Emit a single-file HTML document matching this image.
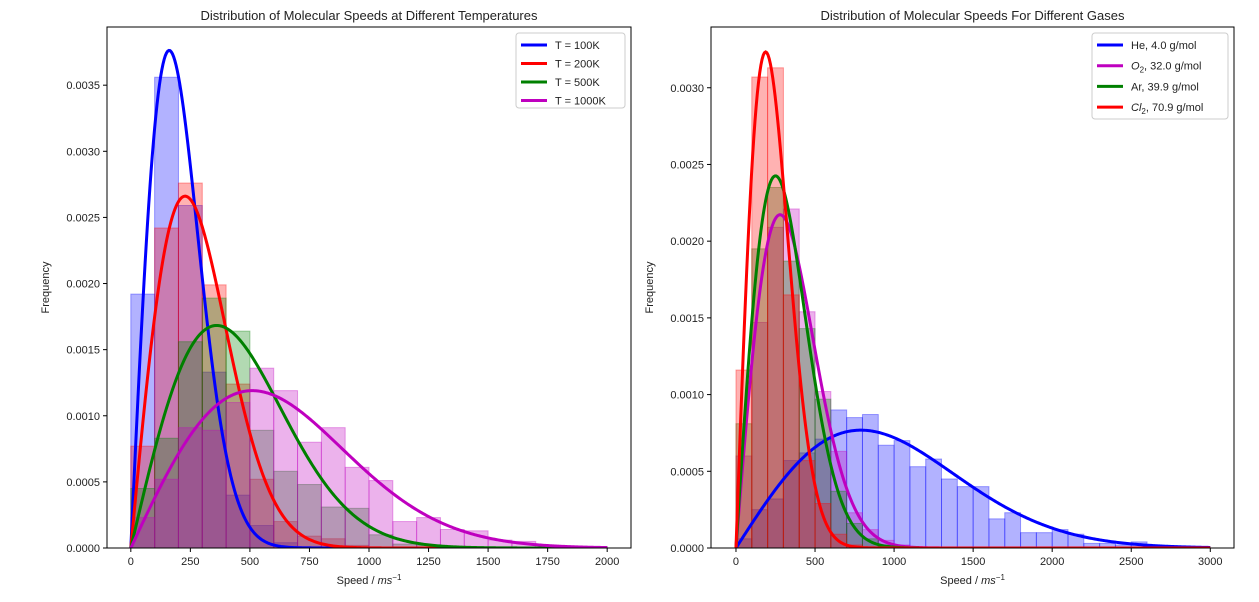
<!DOCTYPE html>
<html><head><meta charset="utf-8"><style>
body{margin:0;background:#fff;}
svg text{font-family:"Liberation Sans","DejaVu Sans",sans-serif;fill:#222;}
</style></head><body>
<svg id="fig" width="1259" height="597" xmlns="http://www.w3.org/2000/svg"></svg>
<script>
// ---- data ----
const leftTemps = [100, 200, 500, 1000];
const leftMass = 0.032; // kg/mol
const leftLabels = ["T = 100K", "T = 200K", "T = 500K", "T = 1000K"];
const leftColors = ["#0000ff", "#ff0000", "#008000", "#bf00bf"];
const leftHist100 = [0.00192,0.00356,0.00259,0.00133,0.00040,0.00017,0.00004,0.00001];
const leftHist200 = [0.00077,0.00242,0.00276,0.00199,0.00124,0.00052,0.00020,0.00009,0.00007,0.00002];
const leftHist500 = [0.00045,0.00083,0.00156,0.00189,0.00164,0.00089,0.00058,0.00048,0.00031,0.00030,0.00010,0.00003,0.00002];
const leftHist1000 = [0.00023,0.00052,0.00091,0.00089,0.00110,0.00136,0.00119,0.00080,0.00091,0.00061,0.00051,0.00020,0.00023,0.00014,0.00013,0.00006,0.00005,0.00001,0.00001,0.00001];
const leftXTicks = [0,250,500,750,1000,1250,1500,1750,2000];
const leftYTicks = [0,0.0005,0.001,0.0015,0.002,0.0025,0.003,0.0035];

const rightTemp = 300;
const rightMasses = [4.0, 32.0, 39.9, 70.9];
const rightLabels = ["He, 4.0 g/mol", "O|2, 32.0 g/mol", "Ar, 39.9 g/mol", "Cl|2, 70.9 g/mol"];
const rightColors = ["#0000ff", "#bf00bf", "#008000", "#ff0000"];
const rightHistHe = [0.00006,0.00025,0.00032,0.00057,0.00062,0.00071,0.00090,0.00085,0.00087,0.00067,0.00070,0.00053,0.00058,0.00045,0.00040,0.00040,0.00019,0.00023,0.00010,0.00010,0.00012,0.00009,0.00003,0.00003,0.00002,0.00004];
const rightHistO2 = [0.00060,0.00147,0.00209,0.00221,0.00154,0.00102,0.00063,0.00023,0.00012,0.00005,0.00002];
const rightHistAr = [0.00081,0.00195,0.00235,0.00187,0.00143,0.00097,0.00037,0.00016,0.00006,0.00002];
const rightHistCl2 = [0.00116,0.00307,0.00313,0.00165,0.00057,0.00029,0.00009,0.00002];
const rightXTicks = [0,500,1000,1500,2000,2500,3000];
const rightYTicks = [0,0.0005,0.001,0.0015,0.002,0.0025,0.003];
const binWidth = 100;

const NS = "http://www.w3.org/2000/svg";
const svg = document.getElementById('fig');
function mk(tag, attrs, parent){const e=document.createElementNS(NS,tag);for(const k in attrs)e.setAttribute(k,attrs[k]);(parent||svg).appendChild(e);return e;}
function pdf2d(v,T,M){const a2=8.314*T/(M/1000);return v/a2*Math.exp(-v*v/(2*a2));}

function panel(cfg){
  const g = mk('g',{});
  
  
  const X = v => cfg.x0 + (v - cfg.xmin)/(cfg.xmax-cfg.xmin)*(cfg.x1-cfg.x0);
  const Y = v => cfg.y1 - (v - cfg.ymin)/(cfg.ymax-cfg.ymin)*(cfg.y1-cfg.y0);
  const clipId = cfg.name+'-clip';
  const cp = mk('clipPath',{id:clipId},g);
  mk('rect',{x:cfg.x0,y:cfg.y0,width:cfg.x1-cfg.x0,height:cfg.y1-cfg.y0},cp);
  const plot = mk('g',{'clip-path':'url(#'+clipId+')'},g);
  cfg.hists.forEach((h,si)=>{
    h.forEach((val,i)=>{
      const r = mk('rect',{x:X(i*binWidth),y:Y(val),width:X((i+1)*binWidth)-X(i*binWidth),height:Y(0)-Y(val),
        fill:cfg.colors[si],'fill-opacity':0.3,stroke:cfg.colors[si],'stroke-opacity':0.35,'stroke-width':1},plot);
      
      
    });
  });
  cfg.curves.forEach((c,si)=>{
    let d='';
    for(let k=0;k<=400;k++){const v=cfg.vmax*k/400;d+=(k?'L':'M')+X(v).toFixed(2)+','+Y(pdf2d(v,c.T,c.M)).toFixed(2);}
    const p = mk('path',{d:d,fill:'none',stroke:cfg.colors[si],'stroke-width':3},plot);
    
    
  });
  mk('rect',{x:cfg.x0,y:cfg.y0,width:cfg.x1-cfg.x0,height:cfg.y1-cfg.y0,fill:'none',stroke:'#000','stroke-width':1},g);
  cfg.xticks.forEach(t=>{
    mk('line',{x1:X(t),x2:X(t),y1:cfg.y1,y2:cfg.y1+4,stroke:'#000'},g);
    const tx = mk('text',{x:X(t),y:cfg.y1+17,'text-anchor':'middle','font-size':11},g);
    tx.textContent=t;
    
    
  });
  cfg.yticks.forEach(t=>{
    mk('line',{x1:cfg.x0-4,x2:cfg.x0,y1:Y(t),y2:Y(t),stroke:'#000'},g);
    const tx = mk('text',{x:cfg.x0-7,y:Y(t)+4,'text-anchor':'end','font-size':11},g);
    tx.textContent=t.toFixed(4);
    
    
  });
  const title = mk('text',{x:(cfg.x0+cfg.x1)/2,y:cfg.y0-7,'text-anchor':'middle','font-size':13},g);
  title.textContent=cfg.title;
  
  
  const xl = mk('text',{x:(cfg.x0+cfg.x1)/2,y:cfg.y1+36,'text-anchor':'middle','font-size':11},g);
  xl.innerHTML='Speed / <tspan font-style="italic">ms</tspan><tspan dy="-4" font-size="8">−1</tspan>';
  
  
  const yl = mk('text',{x:0,y:0,'text-anchor':'middle','font-size':11,transform:'translate('+(cfg.x0-58)+','+((cfg.y0+cfg.y1)/2)+') rotate(-90)'},g);
  yl.textContent='Frequency';
  
  
  // legend
  const L = cfg.legend;
  const lg = mk('g',{},g);
  
  
  mk('rect',{x:L.x,y:L.y,width:L.w,height:L.h,rx:3,fill:'#fff','fill-opacity':0.8,stroke:'#ccc'},lg);
  cfg.labels.forEach((lab,i)=>{
    const yy = L.y + 12 + i*L.step;
    mk('line',{x1:L.x+5,x2:L.x+31,y1:yy,y2:yy,stroke:cfg.colors[i],'stroke-width':3},lg);
    const t = mk('text',{x:L.x+39,y:yy+4,'font-size':11},lg);
    if(lab.includes('|')){const parts=lab.split('|');
      t.innerHTML='<tspan font-style="italic">'+parts[0]+'</tspan><tspan font-size="8" dy="3">'+parts[1][0]+'</tspan><tspan dy="-3">'+parts[1].slice(1)+'</tspan>';
    } else t.textContent=lab;
    
    
  });
}

panel({name:'left-chart',x0:107,x1:631,y0:27,y1:548,xmin:-100,xmax:2100,ymin:0,ymax:0.00394,
  hists:[leftHist100,leftHist200,leftHist500,leftHist1000],
  curves:leftTemps.map(T=>({T:T,M:leftMass*1000})),vmax:2000,
  colors:leftColors,labels:leftLabels,xticks:leftXTicks,yticks:leftYTicks,
  title:'Distribution of Molecular Speeds at Different Temperatures',
  legend:{x:516,y:33,w:109,h:75,step:18.5}});
panel({name:'right-chart',x0:711,x1:1234,y0:27,y1:548,xmin:-158,xmax:3150,ymin:0,ymax:0.003396,
  hists:[rightHistHe,rightHistO2,rightHistAr,rightHistCl2],
  curves:rightMasses.map(M=>({T:rightTemp,M:M})),vmax:3000,
  colors:rightColors,labels:rightLabels,xticks:rightXTicks,yticks:rightYTicks,
  title:'Distribution of Molecular Speeds For Different Gases',
  legend:{x:1092,y:33,w:136,h:86,step:20.7}});
</script>
</body></html>
